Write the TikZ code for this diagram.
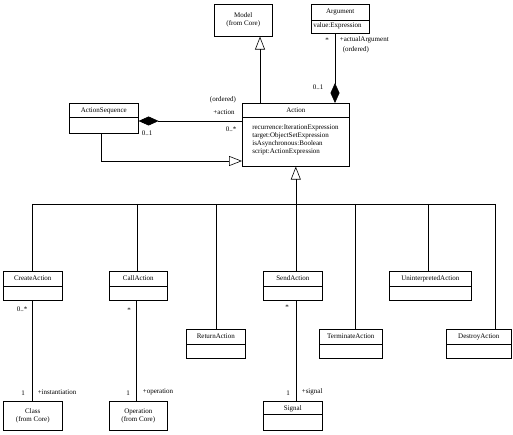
\documentclass[tikz,border=0pt]{standalone}
\usepackage{fontspec}
\setmainfont{Liberation Serif}
\usetikzlibrary{positioning,arrows.meta}
\newcommand\umlfont{\fontsize{7}{8}\selectfont}

\begin{document}
\begin{tikzpicture}[x=1pt,y=-1pt,line width=0.6pt,
        cls/.style={draw,anchor=north west,inner sep=0pt,
                    label={[nm,anchor=center,yshift=-7.5pt]north:#1}},
        pkg/.style={draw,anchor=north west,inner sep=0pt,align=center,font=\umlfont},
        nm/.style={font=\umlfont,inner sep=0pt},
        lbl/.style={font=\umlfont,inner sep=0.5pt},
        gen/.style={-{Triangle[open,length=13pt,width=10pt]}},
        comp/.style={{Diamond[length=20pt,width=9pt]}-}]
    \useasboundingbox (0,0) rectangle (513,435);
    % classes
    \node[pkg,minimum width=58pt,minimum height=32pt] (model) at (214,4) {Model\\(from Core)};
    \node[cls=Argument,minimum width=58pt,minimum height=29pt] (arg) at (311,4) {};
    \node[nm,anchor=west] (argattr) at (313,26) {value:Expression};
    \node[cls=Action,minimum width=107pt,minimum height=63pt] (act) at (242,103) {};
    \node[nm,anchor=north west,align=left] (actattr) at (252,125)
        {recurrence:IterationExpression\\target:ObjectSetExpression\\isAsynchronous:Boolean\\script:ActionExpression};
    \node[cls=ActionSequence,minimum width=69pt,minimum height=30pt] (seq) at (69,103) {};
    \node[cls=CreateAction,minimum width=59pt,minimum height=29pt] (create) at (3,271) {};
    \node[cls=CallAction,minimum width=58pt,minimum height=29pt] (call) at (109,271) {};
    \node[cls=ReturnAction,minimum width=59pt,minimum height=29pt] (ret) at (186,329) {};
    \node[cls=SendAction,minimum width=59pt,minimum height=29pt] (send) at (263,271) {};
    \node[cls=TerminateAction,minimum width=63pt,minimum height=29pt] (term) at (319,329) {};
    \node[cls=UninterpretedAction,minimum width=82pt,minimum height=29pt] (unint) at (389,271) {};
    \node[cls=DestroyAction,minimum width=65pt,minimum height=29pt] (destroy) at (446,329) {};
    \node[pkg,minimum width=59pt,minimum height=29pt] (class) at (3,401) {Class\\(from Core)};
    \node[pkg,minimum width=58pt,minimum height=29pt] (oper) at (109,401) {Operation\\(from Core)};
    \node[cls=Signal,minimum width=59pt,minimum height=29pt] (sig) at (263,401) {};
    \foreach \n/\d in {arg/16,act/14,seq/14,create/15,call/15,ret/15,send/15,term/15,unint/15,destroy/15,sig/13}
        \draw ([yshift=-\d pt]\n.north west) -- ([yshift=-\d pt]\n.north east);
    % associations
    \draw[gen] (act.north -| 260,0) -- (model.south -| 260,0);
    \draw[comp] (act.north -| 335,0) -- (arg.south -| 335,0);
    \draw[comp] (seq.east |- 0,121) -- (act.west |- 0,121);
    \draw[gen] (seq.south -| 101,0) |- (act.west |- 0,161);
    \coordinate (fork) at (act.south |- 0,204);
    \draw[gen] (fork) -- (act.south);
    \draw (32,204) -- (495,204);
    \foreach \n/\x in {create/32,call/137,ret/216,send/296,term/355,unint/428,destroy/495}
        \draw (\x,204) -- (\n.north -| \x,0);
    \draw (create.south -| 32,0) -- (class.north -| 32,0);
    \draw (call.south -| 136,0) -- (oper.north -| 136,0);
    \draw (send.south -| 296,0) -- (sig.north -| 296,0);
    % ends
    \node[lbl] (actord) at (223,100) {(ordered)};
    \node[lbl] (actrole) at (224,112) {+action};
    \node[lbl] (actmul) at (231,129) {0..*};
    \node[lbl] (seqmul) at (147,133) {0..1};
    \node[lbl] (argmul) at (327,40) {*};
    \node[lbl,anchor=west] (argrole) at (339,40) {+actualArgument};
    \node[lbl,anchor=west] (argord) at (342,50) {(ordered)};
    \node[lbl] (ownmul) at (318,87) {0..1};
    \node[lbl] (createmul) at (22,309) {0..*};
    \node[lbl] (classmul) at (23,393) {1};
    \node[lbl,anchor=west] (classrole) at (37,392) {+instantiation};
    \node[lbl] (callmul) at (129,310) {*};
    \node[lbl] (opermul) at (128,393) {1};
    \node[lbl,anchor=west] (operrole) at (142,392) {+operation};
    \node[lbl] (sendmul) at (287,307) {*};
    \node[lbl] (sigmul) at (288,393) {1};
    \node[lbl,anchor=west] (sigrole) at (301,392) {+signal};
\end{tikzpicture}
\end{document}
